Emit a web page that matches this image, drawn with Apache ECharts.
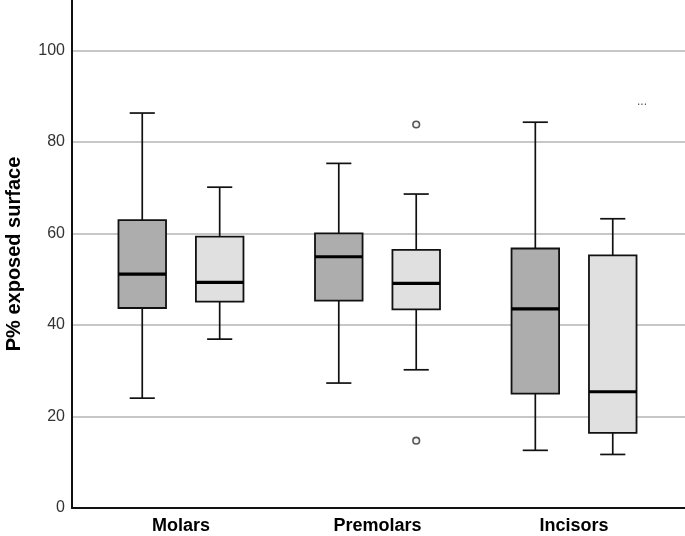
<!DOCTYPE html>
<html>
<head>
<meta charset="utf-8">
<script src="https://cdn.jsdelivr.net/npm/echarts@6/dist/echarts.min.js"></script>
<style>html,body{margin:0;padding:0;background:#fff}#c{width:685px;height:536px}</style>
</head>
<body>
<div id="c"></div>
<script>
// ---- data ----
var categories = ['Molars', 'Premolars', 'Incisors'];
// [min, Q1, median, Q3, max]
var darkBoxes = [
  [24.0, 43.7, 51.1, 62.9, 86.3],
  [27.3, 45.3, 54.9, 60.0, 75.3],
  [12.6, 25.0, 43.5, 56.7, 84.3]
];
var lightBoxes = [
  [36.9, 45.1, 49.3, 59.3, 70.1],
  [30.2, 43.4, 49.1, 56.4, 68.6],
  [11.7, 16.4, 25.4, 55.2, 63.2]
];
// [category index, value]
var lightOutliers = [[1, 83.8], [1, 14.7]];
var yTicks = [0, 20, 40, 60, 80, 100];

var FONT = 'Liberation Sans, Arial, sans-serif';
var Y_MAX = 111;

function boxRender(offsetFrac, fill) {
  return function (params, api) {
    var ci = api.value(0);
    var band = api.size([1, 0])[0];
    var cx = api.coord([ci, 0])[0] + offsetFrac * band;
    var halfW = band * 0.121;
    var capW = band * 0.064;
    var yMin = api.coord([ci, api.value(1)])[1];
    var yQ1 = api.coord([ci, api.value(2)])[1];
    var yMed = api.coord([ci, api.value(3)])[1];
    var yQ3 = api.coord([ci, api.value(4)])[1];
    var yMax = api.coord([ci, api.value(5)])[1];
    var ln = {stroke: '#111', lineWidth: 1.7};
    return {
      type: 'group',
      children: [
        {type: 'line', shape: {x1: cx, y1: yMax, x2: cx, y2: yQ3}, style: ln},
        {type: 'line', shape: {x1: cx, y1: yQ1, x2: cx, y2: yMin}, style: ln},
        {type: 'line', shape: {x1: cx - capW, y1: yMax, x2: cx + capW, y2: yMax}, style: ln},
        {type: 'line', shape: {x1: cx - capW, y1: yMin, x2: cx + capW, y2: yMin}, style: ln},
        {type: 'rect', shape: {x: cx - halfW, y: yQ3, width: 2 * halfW, height: yQ1 - yQ3},
          style: {fill: fill, stroke: '#111', lineWidth: 1.8}},
        {type: 'line', shape: {x1: cx - halfW, y1: yMed, x2: cx + halfW, y2: yMed},
          style: {stroke: '#000', lineWidth: 3.2}}
      ]
    };
  };
}

function toRows(boxes) {
  return boxes.map(function (b, i) { return [i].concat(b); });
}

var chart = echarts.init(document.getElementById('c'), null, {renderer: 'canvas'});
chart.setOption({
  backgroundColor: '#ffffff',
  animation: false,
  grid: [
    {left: 72, right: 0, top: 0, bottom: 28, outerBoundsMode: 'none', containLabel: false},
    {left: 82.7, right: 12.7, top: 0, bottom: 28, outerBoundsMode: 'none', containLabel: false}
  ],
  xAxis: [
    {gridIndex: 0, type: 'value', min: 0, max: 1, show: true,
      axisLine: {show: true, onZero: false, lineStyle: {color: '#111', width: 2}},
      axisTick: {show: false}, axisLabel: {show: false}, splitLine: {show: false}},
    {gridIndex: 1, type: 'category', data: categories,
      axisLine: {show: false}, axisTick: {show: false},
      axisLabel: {fontFamily: FONT, fontSize: 18, fontWeight: 'bold', color: '#000', margin: 9}}
  ],
  yAxis: [
    {gridIndex: 0, type: 'value', min: 0, max: Y_MAX, interval: 20,
      name: 'P% exposed surface', nameLocation: 'middle', nameRotate: 90, nameGap: 48,
      nameTextStyle: {fontFamily: FONT, fontSize: 20, fontWeight: 'bold', color: '#000'},
      axisLine: {show: true, lineStyle: {color: '#111', width: 2}},
      axisTick: {show: false},
      axisLabel: {fontFamily: FONT, fontSize: 16, color: '#333', margin: 7, showMaxLabel: false,
        formatter: function (v) { return yTicks.indexOf(v) >= 0 ? String(v) : ''; }},
      splitLine: {show: true, showMaxLine: false, lineStyle: {color: '#b4b4b4', width: 1.5}}},
    {gridIndex: 1, type: 'value', min: 0, max: Y_MAX, show: false, splitLine: {show: false}}
  ],
  series: [
    {type: 'custom', xAxisIndex: 1, yAxisIndex: 1, data: toRows(darkBoxes),
      renderItem: boxRender(-0.197, '#adadad'), encode: {x: 0, y: [1, 2, 3, 4, 5]}},
    {type: 'custom', xAxisIndex: 1, yAxisIndex: 1, data: toRows(lightBoxes),
      renderItem: boxRender(0.197, '#e0e0e0'), encode: {x: 0, y: [1, 2, 3, 4, 5]}},
    {type: 'custom', xAxisIndex: 1, yAxisIndex: 1, data: lightOutliers,
      encode: {x: 0, y: 1},
      renderItem: function (params, api) {
        var band = api.size([1, 0])[0];
        var p = api.coord([api.value(0), api.value(1)]);
        return {type: 'circle', shape: {cx: p[0] + 0.197 * band, cy: p[1], r: 3.3},
          style: {fill: '#f4f4f4', stroke: '#555', lineWidth: 1.6}};
      }}
  ],
  graphic: [
    {type: 'text', left: 637, top: 96,
      style: {text: '...', fontFamily: FONT, fontSize: 12, fill: '#555'}}
  ]
});
</script>
</body>
</html>
